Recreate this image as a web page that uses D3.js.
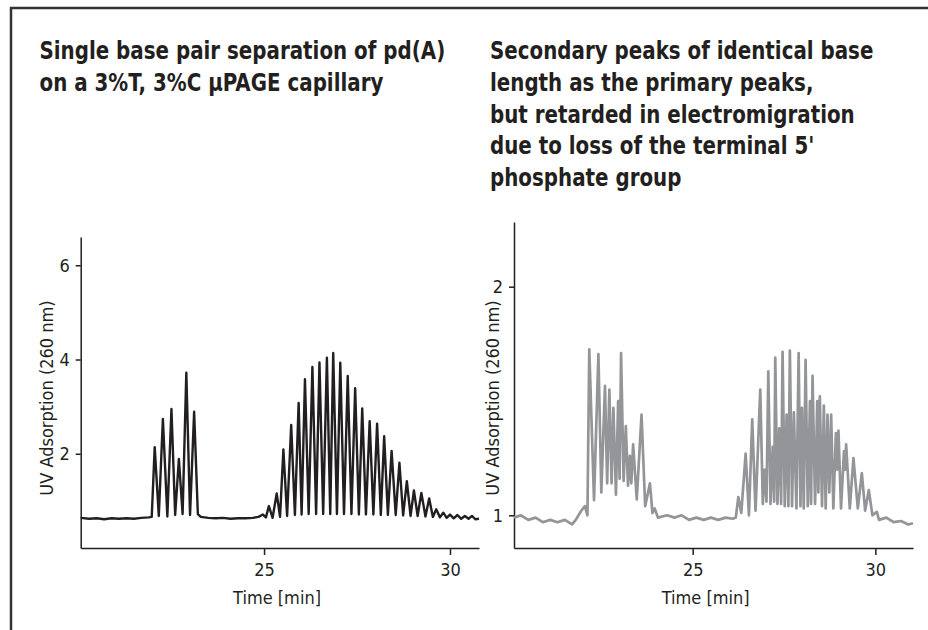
<!DOCTYPE html>
<html>
<head>
<meta charset="utf-8">
<script src="https://cdn.jsdelivr.net/npm/d3@7"></script>
<style>
  html, body { margin: 0; padding: 0; background: #fff; }
  svg { display: block; }
  .title { font-family: "Liberation Sans Narrow", "DejaVu Sans Condensed", "DejaVu Sans", sans-serif; font-stretch: condensed; font-weight: bold; font-size: 24px; fill: #231f20; }
  .axis text, .axis-label { font-family: "Liberation Sans Narrow", "DejaVu Sans Condensed", "DejaVu Sans", sans-serif; font-stretch: condensed; font-size: 18px; fill: #231f20; }
  .axis path, .axis line { stroke: #231f20; stroke-width: 1.5; }
</style>
</head>
<body>
<svg id="chart" width="928" height="630"></svg>
<script>
"use strict";

// titles
const LEFT_TITLE = ["Single base pair separation of pd(A)", "on a 3%T, 3%C μPAGE capillary"];
const RIGHT_TITLE = ["Secondary peaks of identical base", "length as the primary peaks,", "but retarded in electromigration", "due to loss of the terminal 5'", "phosphate group"];

const X_LABEL = "Time [min]";
const Y_LABEL = "UV Adsorption (260 nm)";

const LEFT_Y_TICKS = [2, 4, 6];
const RIGHT_Y_TICKS = [1, 2];
const X_TICKS = [25, 30];

// primary pd(A) trace, [time, uv]
const primaryTrace = [
  [20.07, 0.64], [20.3, 0.62], [20.5, 0.63], [20.7, 0.61], [20.9, 0.63], [21.1, 0.62], [21.3, 0.63],
  [21.5, 0.62], [21.7, 0.64], [21.9, 0.65], [21.98, 0.66],
  [22.06, 2.14], [22.17, 0.68], [22.28, 2.74], [22.40, 0.67], [22.51, 2.95], [22.61, 0.70],
  [22.71, 1.89], [22.81, 0.72], [22.91, 3.72], [23.01, 0.70], [23.12, 2.89], [23.22, 0.72],
  [23.30, 0.66], [23.5, 0.64], [23.7, 0.63], [23.9, 0.64], [24.1, 0.62], [24.3, 0.63], [24.5, 0.63],
  [24.7, 0.64], [24.85, 0.66], [24.97, 0.71], [25.05, 0.65],
  [25.13, 0.89], [25.23, 0.64], [25.34, 1.16], [25.43, 0.66], [25.52, 2.09], [25.62, 0.68],
  [25.73, 2.61], [25.83, 0.70], [25.93, 3.08], [26.01, 0.71], [26.10, 3.58], [26.20, 0.72],
  [26.30, 3.84], [26.40, 0.72], [26.49, 3.94], [26.59, 0.72], [26.69, 4.04], [26.78, 0.72],
  [26.86, 4.14], [26.96, 0.72], [27.05, 3.93], [27.15, 0.72], [27.25, 3.65], [27.35, 0.72],
  [27.45, 3.39], [27.55, 0.71], [27.64, 2.96], [27.74, 0.71], [27.84, 2.69], [27.94, 0.71],
  [28.04, 2.64], [28.14, 0.70], [28.23, 2.37], [28.33, 0.70], [28.43, 2.06], [28.54, 0.70],
  [28.64, 1.81], [28.74, 0.69], [28.84, 1.42], [28.94, 0.68], [29.03, 1.22], [29.13, 0.68],
  [29.23, 1.17], [29.34, 0.67], [29.44, 1.05], [29.54, 0.66], [29.63, 0.82], [29.73, 0.65],
  [29.82, 0.75], [29.91, 0.64], [30.0, 0.71], [30.1, 0.63], [30.2, 0.70], [30.3, 0.62],
  [30.4, 0.68], [30.5, 0.62], [30.59, 0.68], [30.68, 0.61], [30.78, 0.62]
];

// secondary peaks trace, [time, uv]
const secondaryTrace = [
  [20.11, 0.99], [20.3, 1.0], [20.5, 0.98], [20.7, 0.99], [20.9, 0.97], [21.1, 0.98], [21.3, 0.97],
  [21.5, 0.98], [21.7, 0.96], [21.8, 0.98], [21.95, 1.02], [22.05, 1.04], [22.12, 1.0],
  [22.17, 1.726], [22.30, 1.066], [22.42, 1.705], [22.50, 1.10], [22.60, 1.566], [22.66, 1.14],
  [22.72, 1.55], [22.78, 1.14], [22.83, 1.47], [22.90, 1.09], [22.96, 1.50], [23.0, 1.16],
  [23.04, 1.71], [23.11, 1.15], [23.17, 1.39], [23.23, 1.13], [23.28, 1.26], [23.32, 1.14],
  [23.37, 1.31], [23.47, 1.07], [23.60, 1.44], [23.70, 1.04], [23.83, 1.14], [23.90, 1.01],
  [23.96, 1.03], [24.05, 0.99], [24.3, 1.0], [24.5, 0.99], [24.7, 1.0], [24.9, 0.98], [25.1, 0.99],
  [25.3, 0.98], [25.5, 0.99], [25.7, 0.98], [25.9, 0.99], [26.1, 0.985], [26.18, 0.99],
  [26.25, 1.08], [26.33, 1.01], [26.45, 1.27], [26.54, 1.0], [26.63, 1.42], [26.72, 1.02],
  [26.85, 1.55], [26.92, 1.05], [26.97, 1.20], [27.02, 1.06], [27.07, 1.63], [27.13, 1.05],
  [27.19, 1.30], [27.23, 1.06], [27.26, 1.69], [27.32, 1.05], [27.37, 1.38], [27.42, 1.05],
  [27.46, 1.715], [27.52, 1.04], [27.57, 1.44], [27.62, 1.04], [27.66, 1.72], [27.72, 1.04],
  [27.77, 1.45], [27.84, 1.03], [27.90, 1.71], [27.95, 1.04], [27.99, 1.47], [28.04, 1.03],
  [28.09, 1.68], [28.15, 1.04], [28.21, 1.50], [28.24, 1.05], [28.28, 1.61], [28.35, 1.05],
  [28.41, 1.50], [28.44, 1.10], [28.48, 1.52], [28.54, 1.04], [28.59, 1.48], [28.64, 1.03],
  [28.69, 1.44], [28.74, 1.10], [28.79, 1.44], [28.85, 1.03], [28.92, 1.36], [28.96, 1.20],
  [28.99, 1.37], [29.06, 1.03], [29.14, 1.28], [29.17, 1.20], [29.20, 1.31], [29.30, 1.03],
  [29.40, 1.25], [29.52, 1.03], [29.63, 1.185], [29.72, 1.02], [29.82, 1.11], [29.92, 1.0],
  [30.04, 1.015], [30.1, 0.98], [30.3, 0.99], [30.5, 0.97], [30.7, 0.975], [30.9, 0.96], [31.03, 0.965]
];

const svg = d3.select("#chart");
const TITLE_SQUEEZE = 0.92; // the original face is narrower than DejaVu condensed

// page frame: rule on the left and at the top
svg.append("path")
  .attr("d", "M11,630 V8 H928")
  .attr("fill", "none").attr("stroke", "#333").attr("stroke-width", 2.5);

function drawTitle(lines, x, y0) {
  const t = svg.append("text").attr("class", "title")
    .attr("transform", `translate(${x},0) scale(${TITLE_SQUEEZE},1)`);
  lines.forEach((line, i) => {
    t.append("tspan").attr("x", 0).attr("y", y0 + i * 31.8).text(line);
  });
}
drawTitle(LEFT_TITLE, 39.5, 59);
drawTitle(RIGHT_TITLE, 490, 59);

function drawPanel(cfg) {
  const x = d3.scaleLinear().domain(cfg.xDomain).range([cfg.left, cfg.right]);
  const y = d3.scaleLinear().domain(cfg.yDomain).range([cfg.bottom, cfg.top]);
  const g = svg.append("g");

  g.append("g").attr("class", "axis")
    .attr("transform", `translate(0,${cfg.bottom})`)
    .call(d3.axisBottom(x).tickValues(X_TICKS).tickSize(7).tickSizeOuter(0).tickPadding(8).tickFormat(d3.format("d")));

  g.append("g").attr("class", "axis")
    .attr("transform", `translate(${cfg.left},0)`)
    .call(d3.axisLeft(y).tickValues(cfg.yTicks).tickSize(5).tickSizeOuter(0).tickPadding(6).tickFormat(d3.format("d")));

  g.selectAll(".axis text").attr("font-size", null).attr("font-family", null);

  const line = d3.line()
    .x(d => x(d[0]))
    .y(d => y(d[1]));

  g.append("path")
    .datum(cfg.data)
    .attr("fill", "none")
    .attr("stroke", cfg.color)
    .attr("stroke-width", cfg.width)
    .attr("stroke-linejoin", "round")
    .attr("d", line);

  g.append("text").attr("class", "axis-label")
    .attr("text-anchor", "middle")
    .attr("x", x(25) + 13).attr("y", 604)
    .text(X_LABEL);

  g.append("text").attr("class", "axis-label")
    .attr("text-anchor", "middle")
    .attr("transform", `translate(${cfg.left - cfg.labelGap},398) rotate(-90)`)
    .text(Y_LABEL);
}

drawPanel({
  data: primaryTrace, color: "#231f20", width: 2.4,
  xDomain: [20.07, 30.78], yDomain: [0, 6.6], yTicks: LEFT_Y_TICKS,
  left: 80.7, right: 479, top: 237, bottom: 548, labelGap: 28
});

drawPanel({
  data: secondaryTrace, color: "#939598", width: 2.7,
  xDomain: [20.11, 31.03], yDomain: [0.857, 2.283], yTicks: RIGHT_Y_TICKS,
  left: 514, right: 913, top: 222, bottom: 548, labelGap: 15
});
</script>
</body>
</html>
